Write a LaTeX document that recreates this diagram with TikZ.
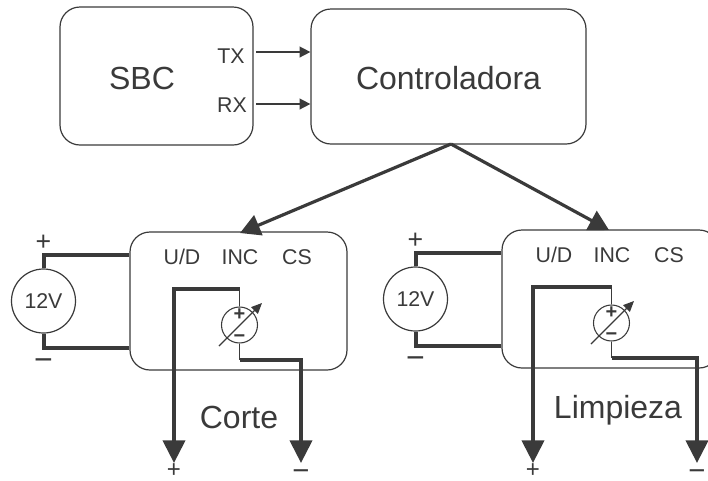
\documentclass[tikz,border=0pt]{standalone}
\usepackage{fontspec}
\setmainfont{Liberation Sans}
\usepackage{xcolor}
\usetikzlibrary{arrows.meta}
\definecolor{ink}{HTML}{3A3A3A}

\begin{document}
\begin{tikzpicture}[x=0.75pt,y=-0.75pt,color=ink]
    \tikzstyle{block} = [draw, rounded corners=15pt, line width=0.9pt, inner sep=0pt]
    \tikzstyle{bigtext} = [inner sep=0pt, font=\fontsize{24}{28}\selectfont]
    \tikzstyle{port} = [inner sep=0pt, font=\fontsize{16}{19}\selectfont]
    \tikzstyle{plus} = [inner sep=0pt, font=\fontsize{20}{22}\selectfont]
    \tikzstyle{minus} = [inner sep=0pt, font=\fontsize{24}{26}\selectfont]
    \tikzstyle{endplus} = [inner sep=0pt, font=\fontsize{18}{20}\selectfont]
    \tikzstyle{endminus} = [inner sep=0pt, font=\fontsize{22}{24}\selectfont]
    \tikzstyle{source} = [circle, draw, line width=0.9pt, inner sep=0pt, minimum size=48pt, font=\fontsize{16}{19}\selectfont]
    \tikzstyle{meter} = [circle, draw, line width=0.8pt, inner sep=0pt, minimum size=27pt]
    \tikzstyle{thin wire} = [line width=0.9pt]
    \tikzstyle{thick wire} = [line width=3pt]
    \tikzstyle{bus} = [line width=2.4pt, -{Triangle[length=15pt,width=16pt]}]
    \tikzstyle{signal} = [line width=1.1pt, -{Triangle[length=8pt,width=8pt]}]

    \path[use as bounding box] (0,0) rectangle (708,480);
    \clip (0,0) rectangle (708,480);

    % Top row
    \node[block, minimum width=144.75pt, minimum height=103.5pt] (sbc) at (156.5,76) {};
    \node[block, minimum width=206.25pt, minimum height=101.25pt] (ctrl) at (448.5,76.5) {};
    \node[bigtext] (sbctext) at (142,78) {SBC};
    \node[bigtext] (ctrltext) at (448.5,78) {Controladora};
    \node[port] (tx) at (231,56) {TX};
    \node[port] (rx) at (232,105) {RX};

    % TX and RX lines
    \foreach \sig/\y in {tx/52,rx/104} {
        \coordinate (\sig out) at (256,\y);
        \draw[signal] (\sig out) -- (\sig out -| ctrl.west);
    }

    % Both output modules
    \foreach \mod/\ox/\oy/\lx/\rx in {corte/0/0/174/301,limpieza/372/-2/533/697} {
        \begin{scope}[shift={(\ox*0.75pt,\oy*-0.75pt)}]
            \node[block, minimum width=162.75pt, minimum height=103.5pt] (\mod) at (238.5,301) {};
            \node[port] (\mod ud) at (182,257) {U/D};
            \node[port] (\mod inc) at (240,257) {INC};
            \node[port] (\mod cs) at (297,257) {CS};

            % 12V supply
            \node[source] (\mod src) at (43.5,301) {12V};
            \node[plus] (\mod srcp) at (43.5,243) {+};
            \node[minus] (\mod srcm) at (43.5,365) {−};
            \draw[thick wire] (\mod src.north) |- (\mod.west |- 0,255);
            \draw[thick wire] (\mod src.south) |- (\mod.west |- 0,348);

            % Meter in the middle
            \node[meter] (\mod pot) at (239.5,325) {};
            \node[inner sep=0pt, font=\fontsize{15}{17}\selectfont\bfseries] (\mod potp) at (239.5,315) {+};
            \node[inner sep=0pt, font=\fontsize{15}{17}\selectfont\bfseries] (\mod potm) at (239.5,339) {−};
            \coordinate (\mod a) at (219,346);
            \coordinate (\mod b) at (262,303);
            \draw[line width=0.9pt, -{Triangle[length=8pt,width=7pt]}] (\mod a) -- (\mod b);
            \coordinate (\mod top) at (239.5,289);
            \coordinate (\mod bot) at (239.5,360);
            \draw[thin wire] (\mod pot.north) -- (\mod top);
            \draw[thin wire] (\mod pot.south) -- (\mod bot);
        \end{scope}
        % Outputs
        \coordinate (\mod lout) at (\lx,463);
        \coordinate (\mod rout) at (\rx,463);
        \node[endplus] (\mod outp) at (\lx,471) {+};
        \node[endminus] (\mod outm) at (\rx,475) {−};
        \draw[thick wire, -{Triangle[length=17pt,width=16.5pt]}] (\mod top) -| (\mod lout);
        \draw[thick wire, -{Triangle[length=17pt,width=16.5pt]}] (\mod bot) -| (\mod rout);
    }

    \coordinate (cortein) at (240,233);
    \coordinate (limpiezain) at (609,230);
    \coordinate (ctrlout) at (451,144);
    \draw[bus] (ctrlout) -- (cortein);
    \draw[bus] (ctrlout) -- (limpiezain);

    \node[bigtext] (cortetext) at (239,417) {Corte};
    \node[bigtext] (limpiezatext) at (618,410) {Limpieza};
\end{tikzpicture}
\end{document}
